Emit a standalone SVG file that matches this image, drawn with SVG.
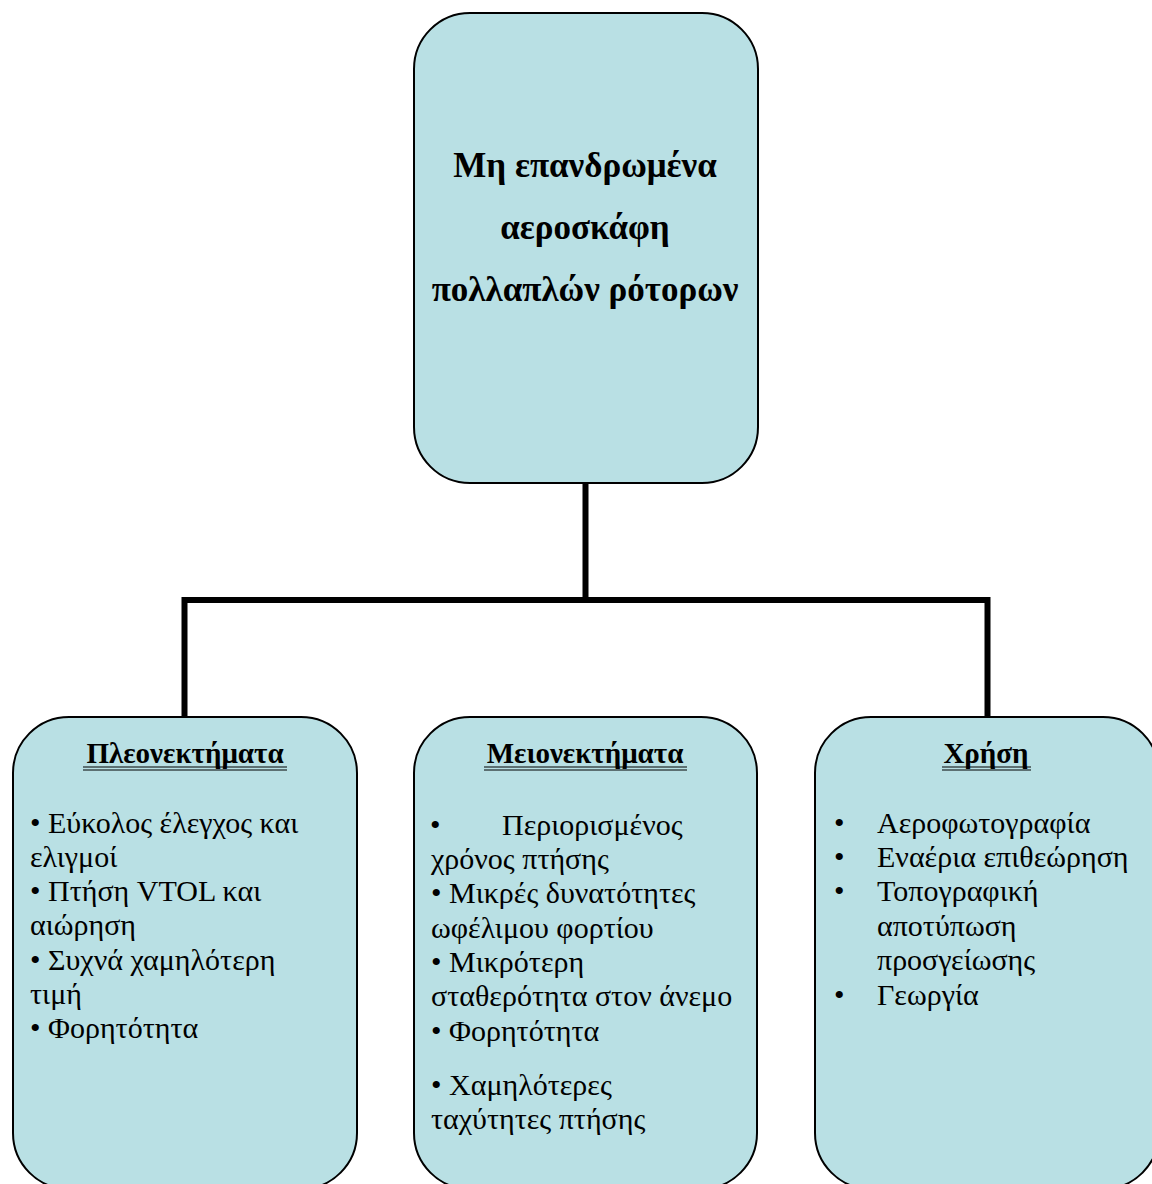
<svg xmlns="http://www.w3.org/2000/svg" width="1152" height="1184" viewBox="0 0 1152 1184">
  <style>
    .box { fill: #B9E0E4; stroke: #000; stroke-width: 2; }
    .wire { fill: none; stroke: #000; stroke-width: 6; stroke-linejoin: miter; }
    .title { font-family: "Liberation Serif", "DejaVu Serif", serif; font-weight: bold; font-size: 35px; fill: #000; text-anchor: middle; }
    .head { font-family: "Liberation Serif", "DejaVu Serif", serif; font-weight: bold; font-size: 29px; fill: #000; text-anchor: middle; }
    .body { font-family: "Liberation Serif", "DejaVu Serif", serif; font-size: 30px; fill: #000; }
    .ul { stroke: #000; stroke-width: 1.2; }
  </style>
  <rect width="1152" height="1184" fill="#fff"/>

  <!-- connectors -->
  <g id="connectors">
    <path class="wire" d="M585.5 483 V600 M184.5 717 V600 H987.5 V717"/>
  </g>

  <!-- root -->
  <g id="root">
    <rect class="box" x="414" y="13" width="344" height="470" rx="56" ry="56"/>
    <text class="title" x="585" y="177">Μη επανδρωμένα</text>
    <text class="title" x="585" y="239">αεροσκάφη</text>
    <text class="title" x="585" y="301">πολλαπλών ρότορων</text>
  </g>

  <!-- advantages -->
  <g id="advantages">
    <rect class="box" x="13" y="717" width="344" height="472" rx="56" ry="56"/>
    <text class="head" x="185" y="763">Πλεονεκτήματα</text>
    <line class="ul" x1="83" y1="767" x2="287" y2="767"/>
    <line class="ul" x1="83" y1="770" x2="287" y2="770"/>
    <text class="body" x="30" y="833">• Εύκολος έλεγχος και</text>
    <text class="body" x="30" y="867">ελιγμοί</text>
    <text class="body" x="30" y="901">• Πτήση VTOL και</text>
    <text class="body" x="30" y="935">αιώρηση</text>
    <text class="body" x="30" y="970">• Συχνά χαμηλότερη</text>
    <text class="body" x="30" y="1004">τιμή</text>
    <text class="body" x="30" y="1038">• Φορητότητα</text>
  </g>

  <!-- disadvantages -->
  <g id="disadvantages">
    <rect class="box" x="414" y="717" width="343" height="472" rx="56" ry="56"/>
    <text class="head" x="585" y="763">Μειονεκτήματα</text>
    <line class="ul" x1="484" y1="767" x2="687" y2="767"/>
    <line class="ul" x1="484" y1="770" x2="687" y2="770"/>
    <text class="body" x="430" y="835">•</text>
    <text class="body" x="502" y="835">Περιορισμένος</text>
    <text class="body" x="431" y="869">χρόνος πτήσης</text>
    <text class="body" x="431" y="903">• Μικρές δυνατότητες</text>
    <text class="body" x="431" y="938">ωφέλιμου φορτίου</text>
    <text class="body" x="431" y="972">• Μικρότερη</text>
    <text class="body" x="431" y="1006">σταθερότητα στον άνεμο</text>
    <text class="body" x="431" y="1041">• Φορητότητα</text>
    <text class="body" x="431" y="1095">• Χαμηλότερες</text>
    <text class="body" x="431" y="1129">ταχύτητες πτήσης</text>
  </g>

  <!-- uses -->
  <g id="uses">
    <rect class="box" x="815" y="717" width="344" height="472" rx="56" ry="56"/>
    <text class="head" x="986" y="763">Χρήση</text>
    <line class="ul" x1="942" y1="767" x2="1031" y2="767"/>
    <line class="ul" x1="942" y1="770" x2="1031" y2="770"/>
    <text class="body" x="834" y="833">•</text>
    <text class="body" x="877" y="833">Αεροφωτογραφία</text>
    <text class="body" x="834" y="867">•</text>
    <text class="body" x="877" y="867">Εναέρια επιθεώρηση</text>
    <text class="body" x="834" y="901">•</text>
    <text class="body" x="877" y="901">Τοπογραφική</text>
    <text class="body" x="877" y="936">αποτύπωση</text>
    <text class="body" x="877" y="970">προσγείωσης</text>
    <text class="body" x="834" y="1005">•</text>
    <text class="body" x="877" y="1005">Γεωργία</text>
  </g>
</svg>
